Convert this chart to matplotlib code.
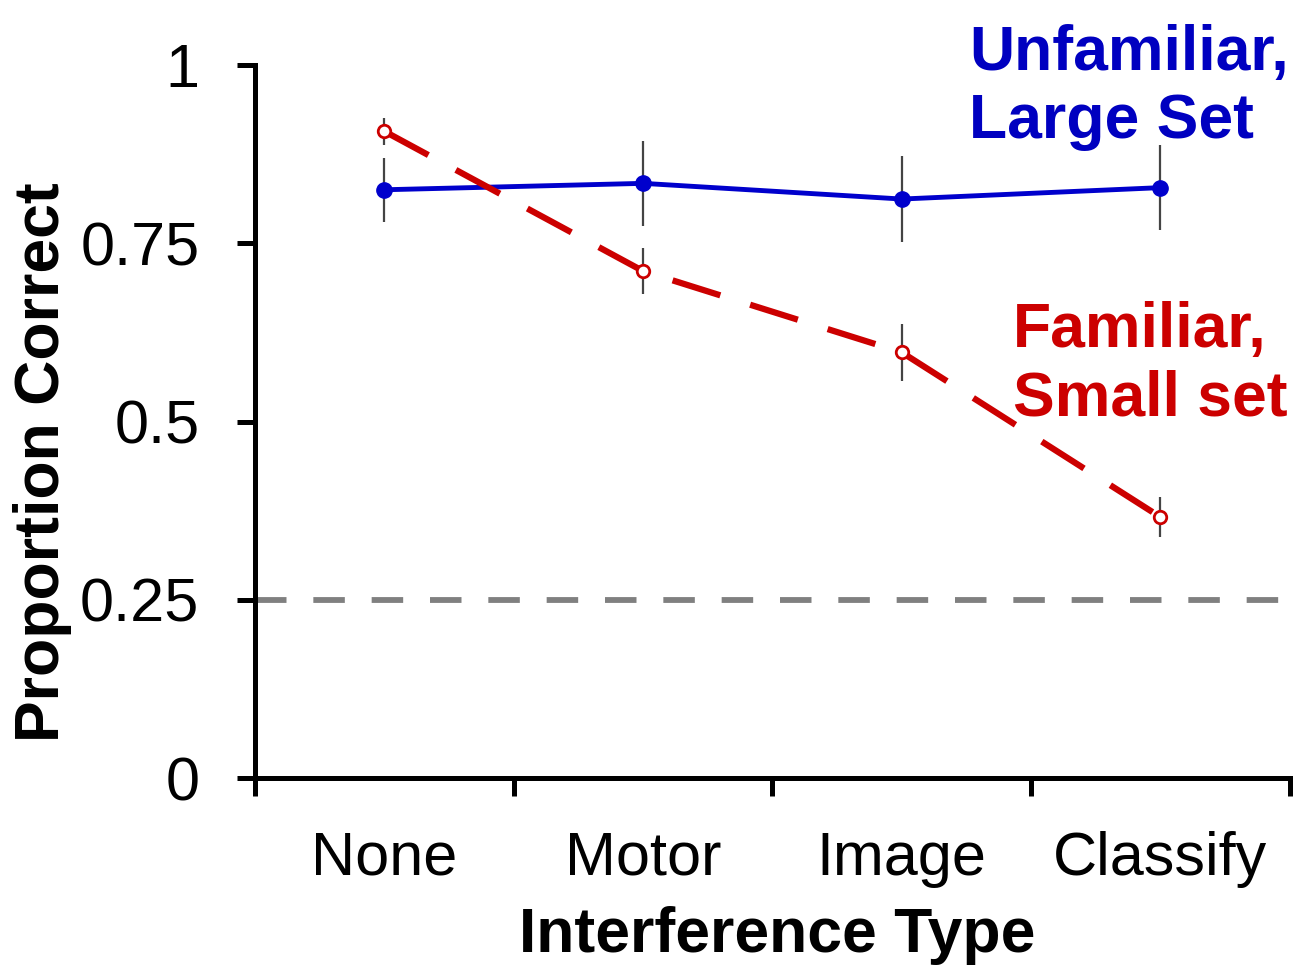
import matplotlib.pyplot as plt
import numpy as np

plt.rcParams['font.family'] = ['Liberation Sans', 'DejaVu Sans']

# Data
categories = ["None", "Motor", "Image", "Classify"]
unfamiliar_mean = [0.825, 0.834, 0.812, 0.828]
unfamiliar_err = [0.045, 0.060, 0.060, 0.060]
familiar_mean = [0.907, 0.711, 0.597, 0.366]
familiar_err = [0.019, 0.032, 0.040, 0.028]
chance = 0.25

x = np.arange(len(categories)) + 0.5

fig = plt.figure(figsize=(13.12, 9.67), dpi=100)
ax = fig.add_axes([0.1944, 0.1954, 0.7886, 0.7374])

# Chance line
ax.axhline(chance, color="#808080", lw=4.2, ls=(0, (5.4, 4.6)), zorder=1)

# Error bars
ax.errorbar(x, unfamiliar_mean, yerr=unfamiliar_err, fmt="none",
            ecolor="#444444", elinewidth=1.6, capsize=0, zorder=2)
ax.errorbar(x, familiar_mean, yerr=familiar_err, fmt="none",
            ecolor="#444444", elinewidth=1.6, capsize=0, zorder=2)

# Lines
ax.plot(x, unfamiliar_mean, color="#0000cc", lw=3.5, marker="o",
        ms=11, mfc="#0000cc", mec="#0000cc", zorder=3)
ax.plot(x, familiar_mean, color="#cc0000", lw=4.5, ls=(0, (8, 5)),
        marker="o", ms=9, mfc="white", mec="#cc0000", mew=2, zorder=4)

# Labels on the lines
ax.text(2.76, 0.898, "Unfamiliar,\nLarge Set", color="#0000c0",
        fontsize=45, fontweight="bold", ha="left", va="baseline",
        clip_on=False)
ax.text(2.93, 0.509, "Familiar,\nSmall set", color="#cc0000",
        fontsize=45, fontweight="bold", ha="left", va="baseline",
        clip_on=False)

# Axes styling
ax.set_xlim(0, 4)
ax.set_ylim(0, 1)
ax.set_yticks([0, 0.25, 0.5, 0.75, 1])
ax.set_yticklabels(["0", "0.25", "0.5", "0.75", "1"])
ax.set_xticks([0, 1, 2, 3, 4])
ax.set_xticklabels([])
ax.set_xticks(x, minor=True)
ax.set_xticklabels(categories, minor=True)
ax.tick_params(axis="x", which="minor", length=0, labelsize=44, pad=38)
ax.tick_params(axis="x", which="major", length=13, width=3.6, direction="out")
ax.tick_params(axis="y", length=13, width=3.6, direction="out",
               labelsize=44, pad=27)

for side in ["top", "right"]:
    ax.spines[side].set_visible(False)
for side in ["left", "bottom"]:
    ax.spines[side].set_linewidth(3.6)

ax.set_ylabel("Proportion Correct", fontsize=45, fontweight="bold")
ax.yaxis.set_label_coords(-0.177, 0.443)
ax.set_xlabel("Interference Type", fontsize=45, fontweight="bold")
ax.xaxis.set_label_coords(0.505, -0.18)

fig.savefig("out.png", dpi=100)
